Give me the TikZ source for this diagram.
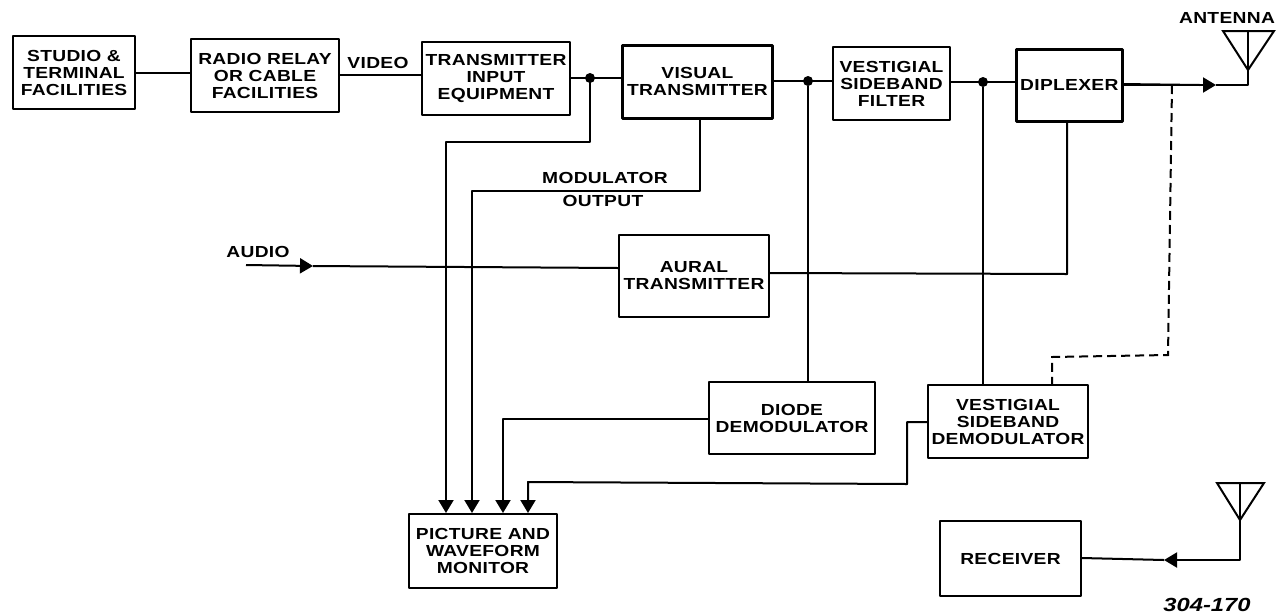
\documentclass[tikz,border=0pt]{standalone}
\usepackage{fontspec}
\setmainfont{Liberation Sans}[BoldFont={Liberation Sans Bold},FakeStretch=1.2,LetterSpace=2]
\newfontfamily\tagfont{Liberation Sans Bold Italic}[FakeStretch=1.25]
\usetikzlibrary{arrows.meta,calc}
\tikzset{
  blk/.style={draw=black,line width=2pt,fill=white,anchor=north west,align=center,inner sep=0pt,font=\fontsize{16}{17}\selectfont\bfseries,line join=round},
  wire/.style={draw=black,line width=2pt,line join=round},
  dashwire/.style={draw=black,line width=2pt,dash pattern=on 9pt off 5pt},
  lbl/.style={font=\fontsize{16}{17}\selectfont\bfseries,inner sep=0pt,align=center},
  tip/.style={-{Triangle[length=13pt,width=15pt]}},
  jn/.style={circle,fill=black,inner sep=0pt,minimum size=10pt},
}
\begin{document}
\begin{tikzpicture}[x=1pt,y=-1pt]
\useasboundingbox (0,0) rectangle (1276,614);
% blocks
\node[blk,minimum width=122pt,minimum height=73pt] (studio) at (12,35) {STUDIO \&\\TERMINAL\\FACILITIES};
\node[blk,minimum width=148pt,minimum height=73pt] (radio) at (190,38) {RADIO RELAY\\OR CABLE\\FACILITIES};
\node[blk,minimum width=148pt,minimum height=73pt] (tie) at (421,41) {TRANSMITTER\\INPUT\\EQUIPMENT};
\node[blk,line width=2.8pt,minimum width=150pt,minimum height=73pt] (visual) at (621,44) {VISUAL\\TRANSMITTER};
\node[blk,minimum width=117pt,minimum height=73pt] (vsbf) at (832,46) {VESTIGIAL\\SIDEBAND\\FILTER};
\node[blk,line width=2.6pt,minimum width=106pt,minimum height=72pt] (dip) at (1015,48) {DIPLEXER};
\node[blk,minimum width=150pt,minimum height=82pt] (aural) at (618,234) {AURAL\\TRANSMITTER};
\node[blk,minimum width=166pt,minimum height=72pt] (diode) at (708,381) {DIODE\\DEMODULATOR};
\node[blk,minimum width=160pt,minimum height=73pt] (vsbd) at (927,384) {VESTIGIAL\\SIDEBAND\\DEMODULATOR};
\node[blk,minimum width=148pt,minimum height=74pt] (mon) at (408,513) {PICTURE AND\\WAVEFORM\\MONITOR};
\node[blk,minimum width=141pt,minimum height=75pt] (rcv) at (939,520) {RECEIVER};
% labels
\node[lbl] (lvideo) at (378,63) {VIDEO};
\node[lbl] (lmod) at (605,178) {MODULATOR};
\node[lbl] (lout) at (603,201) {OUTPUT};
\node[lbl] (laudio) at (258,252) {AUDIO};
\node[lbl] (lant) at (1227,18) {ANTENNA};
\node[font=\fontsize{19}{21}\selectfont\tagfont,inner sep=0pt] (ltag) at (1207,605) {304-170};
% named points
\coordinate (j1) at (590,78);
\coordinate (j2) at (808,81);
\coordinate (j3) at (983,82);
\coordinate (ant) at (1248,70);
\coordinate (anttop) at (1248,31);
\coordinate (antl) at (1223,31);
\coordinate (antr) at (1274,31);
\coordinate (antbase) at (1248,85);
\coordinate (rant) at (1240,520);
\coordinate (ranttop) at (1240,483);
\coordinate (rantl) at (1217,483);
\coordinate (rantr) at (1264,483);
\coordinate (rantbase) at (1240,560);
\coordinate (aud) at (246,265);
% top chain
\draw[wire] (studio.east) -- (studio.east -| radio.west);
\draw[wire] (338,75) -- (tie.west |- 0,75);
\draw[wire] (569,78) -- (j1) -- (visual.west |- j1);
\draw[wire] (771,81) -- (j2) -- (vsbf.west |- j2);
\draw[wire] (949,82) -- (j3) -- (dip.west |- j3);
\node[jn] (jd1) at (j1) {};
\node[jn] (jd2) at (j2) {};
\node[jn] (jd3) at (j3) {};
% to antenna
\draw[wire] (1121,84) -- (1200,85);
\draw[wire,tip] (1121,85) -- (1216,85);
\draw[wire] (1216,85) -- (antbase) -- (ant);
\draw[wire,line join=miter] (ant) -- (antl) -- (antr) -- cycle;
\draw[wire] (anttop) -- (ant);
% to monitor
\draw[wire,tip] (j1) -- (590,142) -- (446,142) -- (446,513);
\draw[wire,tip] (visual.south -| 700,0) -- (700,191) -- (472,191) -- (472,513);
\draw[wire,tip] (diode.west |- 0,419) -- (503,419) -- (503,513);
\draw[wire,tip] (vsbd.west |- 0,422) -- (907,422) -- (907,484) -- (528,482) -- (528,513);
% audio and aural
\draw[wire,tip] (aud) -- (313,266);
\draw[wire] (313,266) -- (aural.west |- 0,268);
\draw[wire] (aural.east |- 0,273) -- (1067,274) -- (dip.south -| 1067,0);
% demodulators
\draw[wire] (jd2) -- (jd2 |- diode.north);
\draw[wire] (jd3) -- (jd3 |- vsbd.north);
\draw[dashwire] (1172,85) -- (1168,355) -- (1052,357) -- (vsbd.north -| 1052,0);
% receiver
\draw[wire,line join=miter] (rant) -- (rantl) -- (rantr) -- cycle;
\draw[wire] (ranttop) -- (rant);
\draw[wire,tip] (rant) -- (rantbase) -- (1164,560);
\draw[wire] (1164,560) -- (rcv.east |- 0,558);
\end{tikzpicture}
\end{document}
